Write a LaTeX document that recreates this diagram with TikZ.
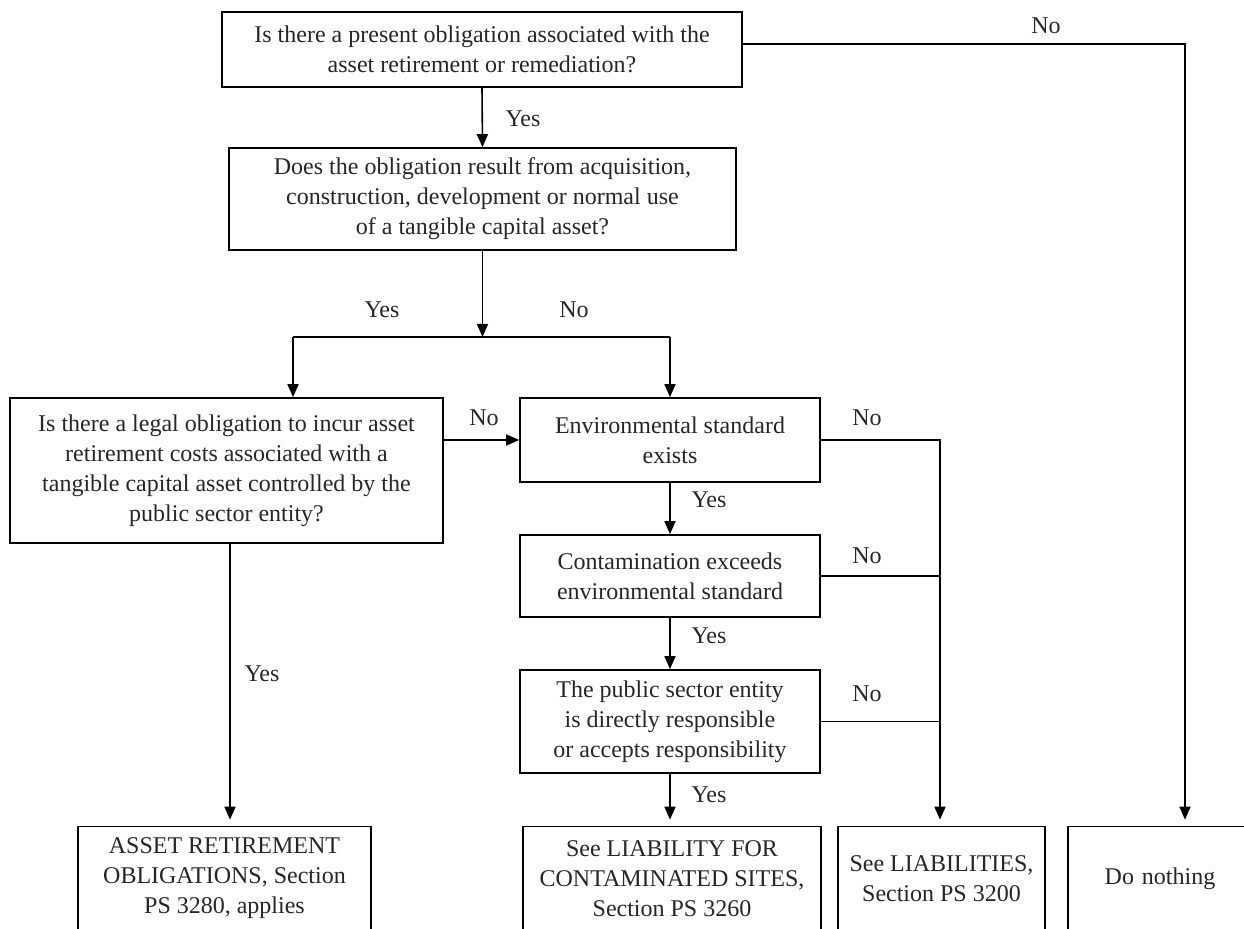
\documentclass[tikz,border=0pt]{standalone}
\usepackage{fontspec}
\setmainfont{Liberation Serif}
\usetikzlibrary{arrows.meta}
\begin{document}
\begin{tikzpicture}[x=0.5pt,y=-0.5pt,
  every node/.style={font=\fontsize{12}{15}\selectfont, text=black!85},
  box/.style={draw, line width=0.8pt, align=center, inner sep=2pt},
  lbl/.style={inner sep=0pt},
  arr/.style={line width=0.8pt, line join=miter, -{Triangle[length=6.5pt,width=5.5pt]}},
  ln/.style={line width=0.8pt}]
\useasboundingbox (0,0) rectangle (1244,929);
% boxes
\node[box, minimum width=260pt, minimum height=37.5pt] (b1) at (482,49.5)
  {Is there a present obligation associated with the\\asset retirement or remediation?};
\node[box, minimum width=253.5pt, minimum height=51pt] (b2) at (482.5,199)
  {Does the obligation result from acquisition,\\construction, development or normal use\\of a tangible capital asset?};
\node[box, minimum width=216.5pt, minimum height=72.5pt] (b3) at (226.5,470.5)
  {Is there a legal obligation to incur asset\\retirement costs associated with a\\tangible capital asset controlled by the\\public sector entity?};
\node[box, minimum width=150pt, minimum height=42pt] (b4) at (670,440)
  {Environmental standard\\exists};
\node[box, minimum width=150pt, minimum height=41pt] (b5) at (670,576)
  {Contamination exceeds\\environmental standard};
\node[box, minimum width=150pt, minimum height=51.5pt] (b6) at (670,721.5)
  {The public sector entity\\is directly responsible\\or accepts responsibility};
\node[box, minimum width=146.5pt, minimum height=52pt] (b7) at (224.5,878.5)
  {ASSET RETIREMENT\\OBLIGATIONS, Section\\PS 3280, applies};
\node[box, minimum width=149pt, minimum height=52pt] (b8) at (672,878.5)
  {See LIABILITY FOR\\CONTAMINATED SITES,\\Section PS 3260};
\node[box, minimum width=103.5pt, minimum height=52pt] (b9) at (941.5,878.5)
  {See LIABILITIES,\\Section PS 3200};
\node[box, minimum width=92pt, minimum height=52pt, text width=80pt, align=center] (b10) at (1160,878.5)
  {Do nothing};
% coordinates
\coordinate (sl) at (293,337);
\coordinate (sr) at (670,337);
\coordinate (nx) at (1185,44);
\coordinate (vx) at (940,0);
% connectors
\draw[arr, shorten >=3pt] (b1.east |- nx) -- (nx) -- (nx |- b10.north);
\draw[arr] (b1.south) -- (b2.north);
\draw[arr] (b2.south) -- (b2.south |- sl);
\draw[ln] (sl) -- (sr);
\draw[arr] (sl) -- (sl |- b3.north);
\draw[arr] (sr) -- (b4.north);
\draw[arr] (b3.east |- b4.west) -- (b4.west);
\draw[arr, shorten >=3pt] (b4.east) -- (b4.east -| vx) -- (vx |- b9.north);
\draw[ln] (b5.east) -- (b5.east -| vx);
\draw[ln] (b6.east) -- (b6.east -| vx);
\draw[arr] (b4.south) -- (b5.north);
\draw[arr] (b5.south) -- (b6.north);
\draw[arr, shorten >=3pt] (b6.south) -- (b6.south |- b8.north);
\draw[arr, shorten >=3pt] (b3.south -| 230,0) -- (230,0 |- b7.north);
% labels
\node[lbl] (l1) at (1046,26) {No};
\node[lbl] (l2) at (523,119) {Yes};
\node[lbl] (l3) at (382,310) {Yes};
\node[lbl] (l4) at (574,310) {No};
\node[lbl] (l5) at (484,418) {No};
\node[lbl] (l6) at (867,418) {No};
\node[lbl] (l7) at (867,556) {No};
\node[lbl] (l8) at (867,694) {No};
\node[lbl] (l9) at (709,500) {Yes};
\node[lbl] (l10) at (709,636) {Yes};
\node[lbl] (l11) at (709,795) {Yes};
\node[lbl] (l12) at (262,674) {Yes};
\end{tikzpicture}
\end{document}
